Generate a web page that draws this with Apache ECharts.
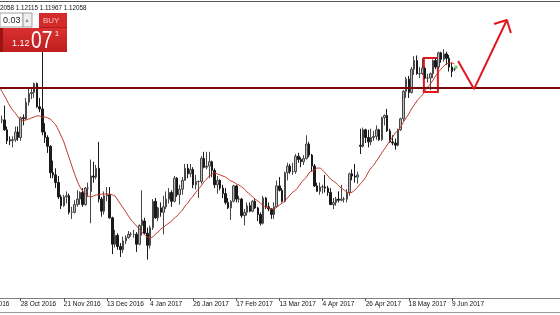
<!DOCTYPE html>
<html><head><meta charset="utf-8">
<script src="https://cdn.jsdelivr.net/npm/echarts@6/dist/echarts.min.js"></script>
<style>html,body{margin:0;padding:0;background:#fff;}#c{width:560px;height:315px;}</style>
</head><body><div id="c"></div>
<script>
// ---- data (EURUSD daily, 18 Oct 2016 .. 12 Jun 2017) ----
const firstDate = '2016-10-06';      // first category (off-screen)
const leadEmpty = 8;                 // categories before the first drawn bar
const totalSlots = 217;              // categories incl. chart-shift space
const labelEvery = 16;
const lastLabelIndex = 176;
const open = [1.0998,1.0975,1.0975,1.0930,1.0885,1.0880,1.0885,1.0920,1.0895,1.0985,1.0980,1.1055,1.1095,1.1100,1.1140,1.1035,1.1025,1.0920,1.0895,1.0855,1.0735,1.0725,1.0690,1.0625,1.0585,1.0625,1.0630,1.0555,1.0555,1.0590,1.0615,1.0645,1.0590,1.0665,1.0650,1.0720,1.0715,1.0755,1.0615,1.0560,1.0630,1.0635,1.0530,1.0410,1.0450,1.0400,1.0385,1.0425,1.0440,1.0455,1.0455,1.0455,1.0410,1.0495,1.0515,1.0460,1.0405,1.0485,1.0605,1.0530,1.0575,1.0555,1.0580,1.0615,1.0645,1.0605,1.0710,1.0635,1.0660,1.0700,1.0755,1.0730,1.0750,1.0680,1.0695,1.0695,1.0800,1.0760,1.0765,1.0785,1.0745,1.0680,1.0700,1.0665,1.0640,1.0600,1.0575,1.0605,1.0675,1.0615,1.0615,1.0540,1.0555,1.0585,1.0560,1.0605,1.0575,1.0545,1.0505,1.0620,1.0580,1.0570,1.0545,1.0580,1.0675,1.0655,1.0605,1.0735,1.0765,1.0740,1.0740,1.0810,1.0795,1.0785,1.0800,1.0865,1.0815,1.0765,1.0675,1.0650,1.0670,1.0670,1.0665,1.0645,1.0590,1.0600,1.0615,1.0610,1.0615,1.0615,1.0645,1.0730,1.0720,1.0715,1.0860,1.0855,1.0930,1.0895,1.0875,1.0895,1.0900,1.0930,1.0885,1.0985,1.0995,1.0925,1.0875,1.0870,1.0860,1.0930,1.0980,1.1105,1.1160,1.1100,1.1205,1.1245,1.1185,1.1185,1.1210,1.1165,1.1165,1.1185,1.1245,1.1215,1.1280,1.1250,1.1275,1.1255,1.1215,1.12058];
const high = [1.1020,1.0995,1.1040,1.0945,1.0900,1.0900,1.0945,1.0945,1.0990,1.1000,1.1075,1.1125,1.1125,1.1145,1.1145,1.1075,1.1300,1.0960,1.0905,1.0860,1.0790,1.0755,1.0720,1.0635,1.0635,1.0650,1.0640,1.0580,1.0610,1.0655,1.0650,1.0665,1.0670,1.0690,1.0795,1.0785,1.0770,1.0875,1.0625,1.0650,1.0670,1.0670,1.0535,1.0475,1.0460,1.0415,1.0445,1.0450,1.0470,1.0465,1.0475,1.0465,1.0500,1.0655,1.0530,1.0485,1.0495,1.0615,1.0620,1.0580,1.0600,1.0630,1.0650,1.0665,1.0655,1.0720,1.0715,1.0680,1.0715,1.0775,1.0775,1.0775,1.0760,1.0725,1.0700,1.0810,1.0830,1.0830,1.0830,1.0790,1.0755,1.0720,1.0705,1.0680,1.0665,1.0620,1.0610,1.0680,1.0680,1.0630,1.0620,1.0570,1.0600,1.0600,1.0610,1.0615,1.0580,1.0555,1.0630,1.0625,1.0600,1.0575,1.0600,1.0700,1.0715,1.0665,1.0740,1.0780,1.0775,1.0780,1.0820,1.0825,1.0805,1.0815,1.0905,1.0875,1.0820,1.0775,1.0690,1.0690,1.0680,1.0725,1.0675,1.0665,1.0620,1.0625,1.0650,1.0680,1.0625,1.0660,1.0735,1.0750,1.0775,1.0740,1.0935,1.0940,1.0935,1.0930,1.0935,1.0925,1.0950,1.0935,1.0990,1.1000,1.1025,1.0935,1.0905,1.0890,1.0935,1.0985,1.1110,1.1170,1.1175,1.1215,1.1265,1.1268,1.1215,1.1255,1.1215,1.1185,1.1190,1.1250,1.1255,1.1285,1.1285,1.1296,1.1285,1.1270,1.1235,1.12115];
const low = [1.0960,1.0960,1.0925,1.0865,1.0860,1.0850,1.0875,1.0880,1.0880,1.0950,1.0975,1.1040,1.1070,1.1075,1.1030,1.1010,1.0905,1.0870,1.0825,1.0710,1.0710,1.0665,1.0615,1.0570,1.0580,1.0595,1.0545,1.0525,1.0550,1.0580,1.0590,1.0580,1.0585,1.0625,1.0505,1.0690,1.0705,1.0600,1.0535,1.0545,1.0605,1.0525,1.0365,1.0395,1.0385,1.0352,1.0370,1.0410,1.0435,1.0445,1.0440,1.0375,1.0405,1.0450,1.0455,1.0340,1.0390,1.0475,1.0525,1.0515,1.0535,1.0455,1.0570,1.0595,1.0580,1.0600,1.0625,1.0590,1.0635,1.0700,1.0710,1.0715,1.0665,1.0660,1.0620,1.0685,1.0755,1.0750,1.0710,1.0715,1.0665,1.0640,1.0655,1.0620,1.0590,1.0570,1.0520,1.0600,1.0600,1.0600,1.0530,1.0495,1.0540,1.0555,1.0555,1.0570,1.0515,1.0495,1.0500,1.0570,1.0560,1.0525,1.0525,1.0575,1.0650,1.0600,1.0600,1.0700,1.0730,1.0725,1.0730,1.0780,1.0760,1.0770,1.0795,1.0805,1.0740,1.0670,1.0650,1.0635,1.0640,1.0645,1.0630,1.0590,1.0570,1.0585,1.0600,1.0605,1.0600,1.0600,1.0630,1.0700,1.0690,1.0685,1.0820,1.0850,1.0870,1.0850,1.0860,1.0880,1.0885,1.0880,1.0880,1.0950,1.0920,1.0870,1.0860,1.0840,1.0855,1.0925,1.0970,1.1075,1.1075,1.1095,1.1180,1.1180,1.1165,1.1180,1.1160,1.1145,1.1110,1.1165,1.1205,1.1205,1.1235,1.1240,1.1225,1.1195,1.1170,1.11967];
const close = [1.0975,1.0975,1.0930,1.0880,1.0880,1.0885,1.0920,1.0895,1.0985,1.0980,1.1055,1.1095,1.1100,1.1140,1.1035,1.1025,1.0920,1.0895,1.0855,1.0735,1.0725,1.0690,1.0625,1.0585,1.0625,1.0630,1.0555,1.0555,1.0590,1.0615,1.0645,1.0590,1.0665,1.0665,1.0720,1.0715,1.0755,1.0615,1.0560,1.0630,1.0635,1.0530,1.0410,1.0450,1.0400,1.0385,1.0425,1.0440,1.0455,1.0455,1.0455,1.0410,1.0495,1.0520,1.0460,1.0405,1.0485,1.0605,1.0530,1.0575,1.0555,1.0580,1.0615,1.0645,1.0605,1.0710,1.0635,1.0660,1.0700,1.0755,1.0730,1.0750,1.0680,1.0695,1.0695,1.0800,1.0760,1.0765,1.0785,1.0745,1.0680,1.0700,1.0665,1.0640,1.0600,1.0575,1.0605,1.0675,1.0615,1.0615,1.0540,1.0555,1.0585,1.0560,1.0605,1.0575,1.0545,1.0505,1.0620,1.0580,1.0570,1.0545,1.0580,1.0675,1.0655,1.0605,1.0735,1.0765,1.0740,1.0740,1.0810,1.0795,1.0785,1.0800,1.0865,1.0815,1.0765,1.0675,1.0650,1.0670,1.0670,1.0665,1.0645,1.0590,1.0600,1.0615,1.0610,1.0615,1.0615,1.0645,1.0730,1.0720,1.0715,1.0725,1.0855,1.0930,1.0895,1.0875,1.0895,1.0900,1.0930,1.0885,1.0985,1.0995,1.0925,1.0875,1.0870,1.0860,1.0930,1.0980,1.1105,1.1160,1.1100,1.1205,1.1245,1.1185,1.1185,1.1210,1.1165,1.1165,1.1185,1.1245,1.1215,1.1280,1.1250,1.1275,1.1255,1.1215,1.1195,1.12058];
const movingAvg = [1.1125,1.1106,1.1084,1.1061,1.1038,1.1020,1.1006,1.0988,1.0975,1.0970,1.0975,1.0979,1.0984,1.0988,1.0993,1.0993,1.0988,1.0988,1.0984,1.0979,1.0965,1.0952,1.0929,1.0902,1.0875,1.0838,1.0802,1.0765,1.0729,1.0697,1.0670,1.0652,1.0638,1.0629,1.0625,1.0629,1.0634,1.0634,1.0638,1.0638,1.0638,1.0638,1.0634,1.0629,1.0611,1.0593,1.0575,1.0556,1.0538,1.0520,1.0506,1.0493,1.0479,1.0465,1.0452,1.0443,1.0438,1.0443,1.0456,1.0465,1.0479,1.0488,1.0497,1.0506,1.0515,1.0529,1.0538,1.0552,1.0565,1.0584,1.0597,1.0615,1.0629,1.0647,1.0661,1.0675,1.0693,1.0706,1.0720,1.0729,1.0734,1.0729,1.0725,1.0720,1.0715,1.0706,1.0697,1.0693,1.0684,1.0679,1.0670,1.0661,1.0647,1.0638,1.0625,1.0615,1.0606,1.0597,1.0584,1.0579,1.0575,1.0570,1.0570,1.0579,1.0588,1.0597,1.0606,1.0620,1.0634,1.0647,1.0656,1.0670,1.0688,1.0702,1.0715,1.0734,1.0743,1.0747,1.0756,1.0756,1.0747,1.0734,1.0720,1.0706,1.0697,1.0688,1.0675,1.0665,1.0656,1.0647,1.0643,1.0647,1.0656,1.0670,1.0684,1.0697,1.0715,1.0738,1.0756,1.0770,1.0788,1.0806,1.0825,1.0843,1.0861,1.0879,1.0897,1.0915,1.0929,1.0943,1.0965,1.0984,1.1002,1.1025,1.1043,1.1061,1.1075,1.1088,1.1106,1.1125,1.1138,1.1156,1.1175,1.1193,1.1206,1.1220,1.1229,1.1234,1.1234,1.1229];
const resistanceLevel = 1.1120;
// hand-drawn annotations (category-slot x, price y)
const arrowPath = [[178.3,1.1243],[184.2,1.1115],[196.4,1.1429]];
const arrowHead = [[191.6,1.1411],[196.4,1.1429],[197.9,1.1370]];
const boxCorners = [[165.6,1.1256],[170.8,1.1102]];
const bidMarker = [[177.5,1.1215]];
const headerText = '2058 1.12115 1.11967 1.12058';
const lotText = '0.03', buyText = 'BUY', priceBig = '1.12', pricePips = '07', pricePoint = '1';

// ---- categories (weekdays) ----
const MON=['Jan','Feb','Mar','Apr','May','Jun','Jul','Aug','Sep','Oct','Nov','Dec'];
const cats=[]; {let d=new Date(firstDate+'T00:00:00Z');
 while(cats.length<totalSlots){const w=d.getUTCDay(); if(w!==0&&w!==6) cats.push(d.getUTCDate()+' '+MON[d.getUTCMonth()]+' '+d.getUTCFullYear()); d=new Date(d.getTime()+86400000);} }
const pad=n=>Array(n).fill('-');
const ohlc=pad(leadEmpty).concat(open.map((o,i)=>[o,close[i],low[i],high[i]]));
const maData=pad(leadEmpty).concat(movingAvg);
const showIdx=(i)=> i%labelEvery===0 && i<=lastLabelIndex;

const band=2.695;
const F='"Liberation Sans", Arial, sans-serif';
const chart=echarts.init(document.getElementById('c'),null,{renderer:'canvas'});
chart.setOption({
 animation:false, backgroundColor:'#fff',
 grid:{left:-23.77, top:0, width:band*totalSlots, height:298, containLabel:false, outerBoundsMode:'none'},
 xAxis:[{type:'category',data:cats,boundaryGap:true,
   axisLine:{show:true,lineStyle:{color:'#808080',width:1}},
   axisTick:{show:true,alignWithLabel:true,interval:showIdx,length:3,lineStyle:{color:'#555'}},
   axisLabel:{show:true,interval:showIdx,align:'left',margin:3,fontSize:6.5,color:'#111',fontFamily:'Liberation Sans',hideOverlap:false},
   splitLine:{show:false}},
  {type:'value',min:-0.5,max:totalSlots-0.5,show:false}],
 yAxis:{type:'value',min:1.01655,max:1.152,show:false,splitLine:{show:false}},
 series:[
  {type:'candlestick',data:ohlc,barWidth:2,
   itemStyle:{color:'#bdbdbd',color0:'#1a1a1a',borderColor:'#474747',borderColor0:'#1a1a1a',borderWidth:1}},
  {type:'line',data:maData,showSymbol:false,smooth:0.3,lineStyle:{color:'#c0392b',width:1},z:3,
   markLine:{silent:true,symbol:'none',precision:5,label:{show:false},lineStyle:{color:'#7a0a0a',width:2,type:'solid'},data:[{yAxis:resistanceLevel}]}},
  {type:'line',xAxisIndex:1,data:arrowPath.concat([['-','-']],arrowHead),showSymbol:false,connectNulls:false,
   lineStyle:{color:'#e3161e',width:2},z:6,
   markArea:{silent:true,itemStyle:{color:'rgba(0,0,0,0)',borderColor:'#e3161e',borderWidth:2},
     data:[[{coord:boxCorners[0]},{coord:boxCorners[1]}]]}},
  {type:'scatter',xAxisIndex:1,data:bidMarker,symbol:'rect',symbolSize:3,itemStyle:{color:'#33cc33'},z:6}
 ],
 graphic:[
  {type:'line',shape:{x1:0,y1:1.5,x2:560,y2:1.5},style:{stroke:'#555',lineWidth:1},z:100},
  {type:'line',shape:{x1:0,y1:312.5,x2:560,y2:312.5},style:{stroke:'#999',lineWidth:1},z:100},
  {type:'text',x:0,y:5,style:{text:headerText,font:'6.3px '+F,fill:'#111'},z:100},
  {type:'rect',shape:{x:0,y:13,width:23,height:14},style:{fill:'#fff',stroke:'#a0a0a0',lineWidth:1},z:100},
  {type:'text',x:3,y:16,style:{text:lotText,font:'9px '+F,fill:'#222'},z:101},
  {type:'rect',shape:{x:23,y:13,width:9,height:14},style:{fill:'#eeeeee',stroke:'#a0a0a0',lineWidth:1},z:100},
  {type:'text',x:25.5,y:17,style:{text:'▴',font:'6px "DejaVu Sans"',fill:'#888'},z:101},
  {type:'rect',shape:{x:39,y:13,width:28,height:15},style:{fill:'#d42a2a'},z:100},
  {type:'text',x:43,y:16.5,style:{text:buyText,font:'8px '+F,fill:'#f6c4c4'},z:101},
  {type:'rect',shape:{x:0,y:28,width:67,height:24},style:{fill:new echarts.graphic.LinearGradient(0,0,0,1,[{offset:0,color:'#d83030'},{offset:1,color:'#bf1f1f'}])},z:100},
  {type:'line',shape:{x1:39,y1:27.5,x2:67,y2:27.5},style:{stroke:'#b51818',lineWidth:1},z:101},
  {type:'rect',shape:{x:0,y:28,width:3,height:24},style:{fill:'#9a1414'},z:101},
  {type:'text',x:12,y:39,style:{text:priceBig,font:'9px '+F,fill:'#fff'},z:101},
  {type:'text',x:31,y:29,scaleX:0.8,style:{text:pricePips,font:'24px '+F,fill:'#fff'},z:101},
  {type:'text',x:55,y:31,style:{text:pricePoint,font:'7px '+F,fill:'#fff'},z:101}
 ]
});
</script></body></html>
